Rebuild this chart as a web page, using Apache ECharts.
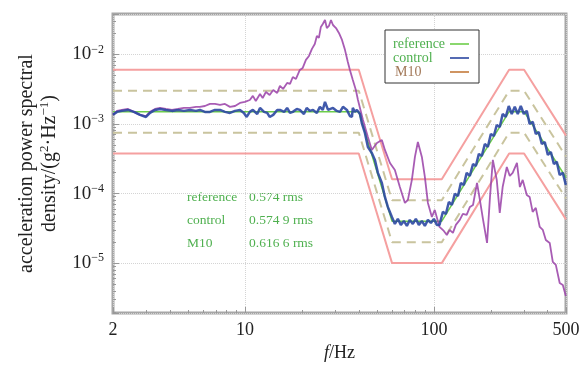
<!DOCTYPE html>
<html><head><meta charset="utf-8">
<script src="https://cdn.jsdelivr.net/npm/echarts@6/dist/echarts.min.js"></script>
<style>html,body{margin:0;padding:0;background:#fff}#c{width:582px;height:365px}</style>
</head><body><div id="c"></div>
<script>
// ---- data ----
const profileFreq = [2, 40, 60, 110, 250, 300, 500];
const referenceLevel = [1.5e-3, 1.5e-3, 4e-5, 4e-5, 1.5e-3, 1.5e-3, 1.7e-4];
const alarmHigh = [3e-3, 3e-3, 8e-5, 8e-5, 3e-3, 3e-3, 3.4e-4];
const alarmLow = [7.5e-4, 7.5e-4, 2e-5, 2e-5, 7.5e-4, 7.5e-4, 8.5e-5];
const abortHigh = [6e-3, 6e-3, 1.6e-4, 1.6e-4, 6e-3, 6e-3, 6.8e-4];
const abortLow = [3.75e-4, 3.75e-4, 1e-5, 1e-5, 3.75e-4, 3.75e-4, 4.25e-5];

const controlFreq = [2.00,2.10,2.23,2.40,2.58,2.78,2.99,3.14,3.34,3.55,3.81,4.10,4.42,4.75,5.11,5.50,5.77,6.13,6.52,6.93,7.37,7.83,8.32,8.85,9.40,9.86,10.2,10.6,11.0,11.6,12.0,12.6,13.1,13.5,14.1,14.8,15.3,16.1,16.7,17.3,17.9,18.8,19.5,20.5,21.2,22.0,22.9,24.0,24.9,25.8,26.5,27.5,28.1,29.2,30.6,31.8,33.0,34.6,35.9,36.8,37.2,38.1,39.1,40.6,
 41.5,43.1,44.7,46.9,48.7,50.5,53.0,55.0,57.0,59.9,
 62.1,64.4,66.8,69.3,71.9,74.5,77.3,80.2,83.2,86.3,89.5,92.9,96.3,99.9,103.6,
 107,111.5,115.6,119.9,124.4,129,134,138.7,143.9,149,154.8,161,166.6,172.9,179.2,185.9,192.8,200,207.5,215,223,231,239.9,248.9,258.1,267.8,277.8,288.2,299,310,321,333.5,346,358.9,372.3,386,400.8,415.8,431.3,447,463,481,499];
const controlPsd = [1.35e-3,1.49e-3,1.54e-3,1.59e-3,1.49e-3,1.35e-3,1.26e-3,1.44e-3,1.59e-3,1.64e-3,1.59e-3,1.54e-3,1.59e-3,1.54e-3,1.59e-3,1.54e-3,1.59e-3,1.49e-3,1.49e-3,1.59e-3,1.59e-3,1.49e-3,1.44e-3,1.54e-3,1.59e-3,1.44e-3,1.26e-3,1.49e-3,1.59e-3,1.39e-3,1.70e-3,1.49e-3,1.44e-3,1.26e-3,1.35e-3,1.59e-3,1.59e-3,1.49e-3,1.70e-3,1.44e-3,1.49e-3,1.64e-3,1.59e-3,1.39e-3,1.70e-3,1.54e-3,1.59e-3,1.44e-3,1.76e-3,1.59e-3,2.07e-3,1.59e-3,1.49e-3,1.70e-3,1.54e-3,1.49e-3,1.76e-3,1.59e-3,1.30e-3,1.26e-3,1.70e-3,1.49e-3,1.59e-3,1.39e-3,
 1.03e-3,7.43e-4,4.67e-4,3.83e-4,3.04e-4,1.98e-4,1.42e-4,8.94e-5,6.42e-5,4.61e-5,
 3.66e-5,4.32e-5,3.54e-5,4.04e-5,3.42e-5,4.18e-5,3.66e-5,4.32e-5,3.54e-5,4.04e-5,3.42e-5,4.18e-5,3.78e-5,4.32e-5,3.54e-5,
 3.54e-5,5.45e-5,5.09e-5,7.57e-5,6.85e-5,9.87e-5,9.24e-5,1.42e-4,1.33e-4,1.98e-4,1.79e-4,2.66e-4,2.49e-4,3.71e-4,3.47e-4,5.16e-4,4.67e-4,7.18e-4,6.73e-4,9.67e-4,9.06e-4,1.39e-3,1.26e-3,1.81e-3,1.39e-3,1.76e-3,1.39e-3,1.81e-3,1.39e-3,1.54e-3,1.00e-3,1.07e-3,7.18e-4,7.67e-4,5.16e-4,5.51e-4,3.59e-4,3.96e-4,2.66e-4,2.85e-4,1.85e-4,1.98e-4,1.33e-4];

const m10Freq = [2.00,2.10,2.23,2.40,2.58,2.78,2.99,3.14,3.34,3.55,3.81,4.10,4.42,4.75,5.11,5.50,5.77,6.13,6.52,6.93,7.37,7.83,8.32,8.85,9.40,9.98,10.6,11.0,11.4,12.0,12.4,12.9,13.5,14.1,14.8,15.3,15.9,16.7,17.3,17.9,18.6,19.5,20.2,21.0,21.8,22.6,23.4,24.0,24.6,25.2,25.8,26.5,27.1,27.8,28.5,29.2,30.3,31.4,32.6,33.8,35.0,35.9,37.2,38.6,39.6,42.1,44.7,46.9,49.9,53.0,55.0,58.5,62.1,66.0,70.2,72.8,76.4,79.3,82.2,86.3,89.5,92.9,97.5,101,
 107,112.8,117,121,126,130.6,137,142.2,149,155,161,169,175,182,191,198,205,215,223,231,243,252,261,275,285,295,310,321,333,346,363,377,391,410,425.6,441.7,463,481,499];
const m10Psd = [1.35e-3,1.54e-3,1.59e-3,1.64e-3,1.49e-3,1.35e-3,1.30e-3,1.49e-3,1.64e-3,1.70e-3,1.64e-3,1.59e-3,1.64e-3,1.70e-3,1.70e-3,1.76e-3,1.76e-3,1.81e-3,1.94e-3,1.94e-3,1.88e-3,1.94e-3,1.76e-3,1.81e-3,2.00e-3,2.07e-3,2.21e-3,2.53e-3,2.14e-3,2.70e-3,2.36e-3,2.88e-3,2.61e-3,3.08e-3,2.79e-3,3.52e-3,3.18e-3,3.88e-3,3.76e-3,4.73e-3,4.43e-3,5.97e-3,6.38e-3,8.32e-3,9.48e-3,1.20e-2,1.41e-2,1.84e-2,1.72e-2,2.48e-2,2.73e-2,3.12e-2,2.39e-2,2.56e-2,3.12e-2,2.64e-2,2.39e-2,2.03e-2,1.61e-2,1.16e-2,7.78e-3,5.97e-3,4.28e-3,3.08e-3,2.21e-3,1.14e-3,6.50e-4,4.23e-4,5.33e-4,5.89e-4,4.23e-4,2.75e-4,2.18e-4,1.24e-4,7.33e-5,8.10e-5,1.57e-4,3.36e-4,5.51e-4,3.36e-4,1.73e-4,7.33e-5,4.61e-5,5.81e-5,
 3.31e-5,2.90e-5,2.54e-5,3.00e-5,2.72e-5,3.54e-5,4.18e-5,5.09e-5,4.93e-5,6.42e-5,6.85e-5,1.42e-4,8.10e-5,4.18e-5,1.95e-5,8.94e-5,3.04e-4,1.57e-4,5.26e-5,1.24e-4,2.41e-4,1.79e-4,1.98e-4,2.75e-4,1.24e-4,1.57e-4,9.55e-5,8.94e-5,5.45e-5,6.21e-5,3.31e-5,3.00e-5,2.15e-5,1.95e-5,1.04e-5,9.42e-6,5.19e-6,4.86e-6,3.38e-6];

const xLabelValues = [2, 10, 100, 500];
const yLabelValues = [1e-5, 1e-4, 1e-3, 1e-2];
const xMinorTicks = [3,4,5,6,7,8,9,20,30,40,50,60,70,80,90,200,300,400];
const yMinorTicks = [2e-6,3e-6,4e-6,5e-6,6e-6,7e-6,8e-6,9e-6,2e-5,3e-5,4e-5,5e-5,6e-5,7e-5,8e-5,9e-5,2e-4,3e-4,4e-4,5e-4,6e-4,7e-4,8e-4,9e-4,2e-3,3e-3,4e-3,5e-3,6e-3,7e-3,8e-3,9e-3,2e-2,3e-2];
const rmsNames = ['reference', 'control', 'M10'];
const rmsValues = ['0.574 rms', '0.574 9 rms', '0.616 6 rms'];

// ---- chart ----
const SERIF = '"Liberation Serif","DejaVu Serif",serif';
const zip = (a, b) => a.map((v, i) => [v, b[i]]);
const chart = echarts.init(document.getElementById('c'));
const lineBase = {type: 'line', symbol: 'none', showSymbol: false, animation: false, silent: true};
const green = '#4fb04f';

const graphic = [];
rmsNames.forEach((n, i) => {
  graphic.push({type: 'text', left: 187, top: 190 + i * 23, style: {text: n, fill: green, font: '13.5px ' + SERIF}});
  graphic.push({type: 'text', left: 249, top: 190 + i * 23, style: {text: rmsValues[i], fill: green, font: '13.5px ' + SERIF}});
});

chart.setOption({
  animation: false,
  backgroundColor: '#fff',
  grid: {left: 113, right: 16, top: 14, bottom: 52, show: true, borderColor: '#a6a6a6', borderWidth: 3, backgroundColor: '#fff', outerBoundsMode: 'none'},
  xAxis: [{
    type: 'log', min: 2, max: 500,
    name: '{i|f}/Hz', nameLocation: 'middle', nameGap: 30,
    nameTextStyle: {fontFamily: SERIF, fontSize: 18, color: '#222', rich: {i: {fontFamily: SERIF, fontSize: 18, fontStyle: 'italic', color: '#222'}}},
    axisLine: {show: false},
    axisTick: {inside: true, length: 6, lineStyle: {color: '#999'}},
    axisLabel: {customValues: xLabelValues, fontFamily: SERIF, fontSize: 18, color: '#222', margin: 8, formatter: v => String(Math.round(v))},
    splitLine: {show: true, lineStyle: {color: '#d4d4d4', type: 'dotted', width: 1}}
  }, {
    type: 'log', min: 2, max: 500, position: 'bottom',
    axisLine: {show: false}, axisLabel: {show: false}, splitLine: {show: false},
    axisTick: {inside: true, length: 3, customValues: xMinorTicks, lineStyle: {color: '#999'}}
  }],
  yAxis: [{
    type: 'log', min: 1.92e-6, max: 0.038,
    name: 'acceleration power spectral\ndensity/(g{s|2}·Hz{s|−1})',
    nameLocation: 'middle', nameGap: 52, nameRotate: 90,
    nameTextStyle: {fontFamily: SERIF, fontSize: 20, color: '#222', lineHeight: 23,
      rich: {s: {fontFamily: SERIF, fontSize: 13, color: '#222', verticalAlign: 'top', lineHeight: 23}}},
    axisLine: {show: false},
    axisTick: {inside: true, length: 6, lineStyle: {color: '#999'}},
    axisLabel: {customValues: yLabelValues, margin: 9,
      formatter: v => { const e = Math.round(Math.log10(v)); return '{b|10}{s|' + (e < 0 ? '−' : '') + Math.abs(e) + '}'; },
      rich: {b: {fontFamily: SERIF, fontSize: 19, color: '#222', lineHeight: 22},
             s: {fontFamily: SERIF, fontSize: 12, color: '#222', verticalAlign: 'top', lineHeight: 22}}},
    splitLine: {show: true, lineStyle: {color: '#d4d4d4', type: 'dotted', width: 1}}
  }, {
    type: 'log', min: 1.92e-6, max: 0.038, position: 'left',
    axisLine: {show: false}, axisLabel: {show: false}, splitLine: {show: false},
    axisTick: {inside: true, length: 3, customValues: yMinorTicks, lineStyle: {color: '#999'}}
  }],
  legend: {
    orient: 'vertical', left: 385, top: 30, align: 'right',
    padding: [7, 10, 4, 8], itemGap: 0, itemWidth: 19, itemHeight: 1.6, icon: 'rect',
    backgroundColor: '#fff', borderColor: '#333', borderWidth: 1, borderRadius: 0,
    selectedMode: false,
    formatter: n => (n === 'M10' ? '{m|' : '{a|') + n + '}',
    textStyle: {fontFamily: SERIF, fontSize: 14, rich: {
      a: {fontFamily: SERIF, fontSize: 14, width: 52, align: 'left', color: green, lineHeight: 14},
      m: {fontFamily: SERIF, fontSize: 14, width: 50, align: 'left', color: '#a27858', lineHeight: 14, padding: [0, 0, 0, 2]}
    }},
    data: [
      {name: 'reference', itemStyle: {color: '#6ccd4a'}},
      {name: 'control', itemStyle: {color: '#2a46a0'}},
      {name: 'M10', itemStyle: {color: '#c47a3a'}}
    ]
  },
  graphic: graphic,
  series: [
    Object.assign({}, lineBase, {name: 'abort+', data: zip(profileFreq, abortHigh), lineStyle: {color: '#f5a0a0', width: 2}}),
    Object.assign({}, lineBase, {name: 'abort-', data: zip(profileFreq, abortLow), lineStyle: {color: '#f5a0a0', width: 2}}),
    Object.assign({}, lineBase, {name: 'alarm+', data: zip(profileFreq, alarmHigh), lineStyle: {color: '#c9c49e', width: 2, type: [9, 6]}}),
    Object.assign({}, lineBase, {name: 'alarm-', data: zip(profileFreq, alarmLow), lineStyle: {color: '#c9c49e', width: 2, type: [9, 6]}}),
    Object.assign({}, lineBase, {name: 'reference', data: zip(profileFreq, referenceLevel), lineStyle: {color: '#6ccd4a', width: 1.5}, itemStyle: {color: '#6ccd4a'}}),
    Object.assign({}, lineBase, {name: 'M10', data: zip(m10Freq, m10Psd), lineStyle: {color: '#9c46aa', width: 1.8, opacity: 0.88}, itemStyle: {color: '#9c46aa'}}),
    Object.assign({}, lineBase, {name: 'control', data: zip(controlFreq, controlPsd), lineStyle: {color: '#2c48a2', width: 2.5, opacity: 0.9}, itemStyle: {color: '#2c48a2'}})
  ]
});
</script></body></html>
